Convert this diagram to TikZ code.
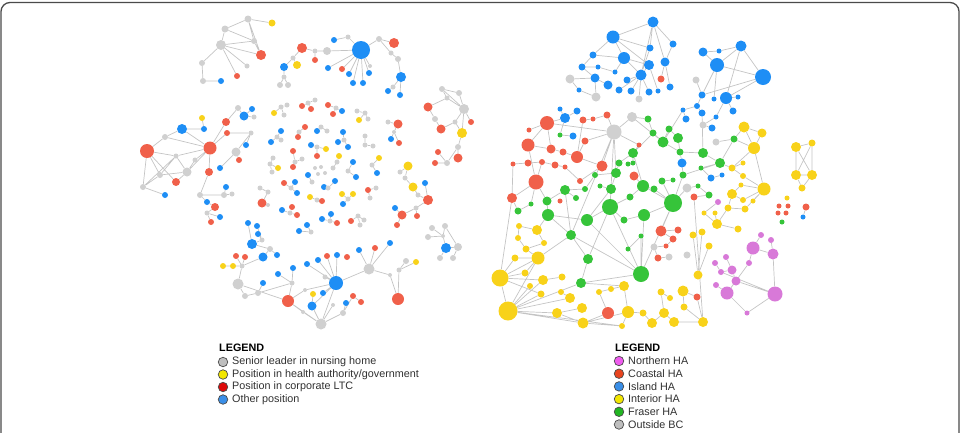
\documentclass[tikz,border=0pt]{standalone}
\usepackage{fontspec}
\setmainfont{Liberation Sans}
\usepackage{xcolor}
\usepackage{tikz}
\definecolor{cg}{HTML}{D0D0D0}
\definecolor{cy}{HTML}{F8D21A}
\definecolor{cr}{HTML}{F0604A}
\definecolor{cb}{HTML}{1E8EF5}
\definecolor{cn}{HTML}{36C43A}
\definecolor{cp}{HTML}{D879D8}
\definecolor{lnkgray}{HTML}{C4C4C4}
\definecolor{keyline}{HTML}{4A4A4A}
\definecolor{lgtext}{HTML}{303030}
\definecolor{kgray}{HTML}{BEBEBE}
\definecolor{kyel}{HTML}{F2E600}
\definecolor{kred}{HTML}{DD0A0A}
\definecolor{kblue}{HTML}{3A8FE8}
\definecolor{kpink}{HTML}{EE5BEE}
\definecolor{kcoast}{HTML}{E8441E}
\definecolor{kgreen}{HTML}{22B522}
\newcommand{\vx}[5]{\node[vtx,fill=#4,minimum size=#5pt] (#1) at (#2,#3) {};}
\pgfdeclarelayer{back}
\pgfsetlayers{back,main}

\begin{document}
\begin{tikzpicture}[x=1pt,y=-1pt,vtx/.style={circle,inner sep=0pt,draw=none},lnk/.style={draw=lnkgray,line width=0.7pt},key/.style={circle,draw=keyline,line width=0.7pt,inner sep=0pt,minimum size=9.5pt},lbl/.style={anchor=west,inner sep=0pt,font=\fontsize{10.8}{12}\selectfont,text=lgtext},ttl/.style={anchor=west,inner sep=0pt,font=\fontsize{10.8}{12}\selectfont\bfseries,text=black}]
\useasboundingbox (0,0) rectangle (965,432);
\draw[draw=keyline,line width=1.3pt,rounded corners=9pt] (1,445)--(1,2.5)--(959,2.5)--(959,445);
\vx{A1}{225}{29}{cg}{7} \vx{A2}{248}{19}{cg}{7} \vx{A3}{272}{23}{cy}{7} \vx{A4}{254}{41}{cg}{6} \vx{A5}{221}{45}{cg}{10} \vx{A6}{261}{55}{cr}{10}
\vx{A7}{247}{66}{cg}{5} \vx{A8}{237}{76}{cr}{6} \vx{A9}{202}{63}{cg}{6} \vx{A10}{203}{81}{cg}{6} \vx{A11}{221}{81}{cb}{6}
\vx{B1}{361}{50}{cb}{18} \vx{B2}{327}{51}{cg}{8} \vx{B3}{315}{51}{cg}{5} \vx{B4}{302}{48}{cr}{10} \vx{B5}{315}{60}{cr}{6} \vx{B6}{334}{40}{cb}{6} \vx{B7}{328}{68}{cb}{6}
\vx{B8}{342}{69}{cr}{6} \vx{B9}{349}{74}{cb}{6} \vx{B10}{353}{83}{cb}{6} \vx{B11}{363}{83}{cb}{6} \vx{B12}{369}{73}{cb}{6} \vx{B13}{348}{37}{cg}{5} \vx{B14}{379}{39}{cg}{6}
\vx{B15}{394}{43}{cr}{10} \vx{B16}{391}{53}{cg}{5} \vx{B17}{398}{59}{cg}{6} \vx{B18}{401}{77}{cb}{10} \vx{B19}{393}{87}{cg}{5} \vx{B20}{388}{91}{cb}{6} \vx{B21}{400}{95}{cb}{6}
\vx{B22}{293}{58}{cg}{5} \vx{B23}{297}{65}{cy}{8} \vx{B24}{284}{67}{cb}{8} \vx{B25}{284}{77}{cg}{5} \vx{B26}{280}{85}{cg}{6} \vx{B27}{288}{85}{cg}{6} \vx{B28}{370}{66}{cg}{4}
\vx{C1}{442}{89}{cg}{6} \vx{C2}{459}{93}{cg}{6} \vx{C3}{464}{109}{cg}{10} \vx{C4}{428}{107}{cr}{9} \vx{C5}{447}{98}{cg}{5} \vx{C6}{435}{119}{cg}{6} \vx{C7}{441}{129}{cr}{9}
\vx{C8}{455}{122}{cg}{5} \vx{C9}{471}{122}{cr}{6} \vx{C10}{462}{133}{cy}{10} \vx{C11}{458}{147}{cg}{6} \vx{C12}{458}{158}{cr}{9} \vx{C13}{438}{152}{cr}{6} \vx{C14}{435}{163}{cr}{6} \vx{C15}{447}{163}{cg}{6}
\vx{D1}{147}{151}{cr}{14} \vx{D2}{165}{137}{cg}{6} \vx{D3}{182}{129}{cb}{10} \vx{D4}{202}{118}{cy}{6} \vx{D5}{204}{129}{cb}{6} \vx{D6}{210}{148}{cr}{13} \vx{D7}{226}{122}{cr}{8}
\vx{D8}{238}{108}{cg}{6} \vx{D9}{244}{116}{cb}{9} \vx{D10}{252}{109}{cb}{6} \vx{D11}{254}{117}{cg}{5} \vx{D12}{251}{133}{cg}{5} \vx{D13}{227}{133}{cr}{6} \vx{D14}{246}{145}{cb}{6}
\vx{D15}{236}{152}{cg}{9} \vx{D16}{239}{160}{cr}{6} \vx{D17}{220}{168}{cb}{6} \vx{D18}{187}{172}{cg}{9} \vx{D19}{176}{182}{cr}{8} \vx{D20}{160}{175}{cg}{6} \vx{D21}{143}{187}{cg}{6}
\vx{D22}{165}{195}{cb}{6} \vx{D23}{209}{172}{cr}{8} \vx{D24}{200}{195}{cg}{6} \vx{D25}{224}{195}{cg}{6} \vx{D26}{226}{187}{cb}{6} \vx{D27}{207}{202}{cb}{6} \vx{D28}{215}{207}{cr}{8}
\vx{D29}{207}{213}{cg}{5} \vx{D30}{220}{217}{cb}{6} \vx{D31}{211}{222}{cr}{6} \vx{D32}{232}{194}{cg}{5} \vx{D33}{176}{156}{cg}{5} \vx{D34}{195}{160}{cg}{5}
\vx{e1}{274}{113}{cy}{6} \vx{e2}{281}{107}{cg}{5} \vx{e3}{287}{105}{cg}{5} \vx{e4}{284}{115}{cg}{5} \vx{e5}{302}{106}{cr}{6} \vx{e6}{308}{103}{cg}{5} \vx{e7}{311}{109}{cr}{6} \vx{e8}{315}{100}{cg}{5}
\vx{e9}{328}{105}{cr}{6} \vx{e10}{333}{114}{cr}{6} \vx{e11}{336}{108}{cg}{5} \vx{e12}{342}{111}{cb}{6} \vx{e13}{357}{111}{cg}{5} \vx{e14}{359}{120}{cy}{6} \vx{e15}{368}{119}{cg}{5} \vx{e16}{365}{113}{cg}{5}
\vx{e17}{398}{124}{cr}{9} \vx{e18}{388}{122}{cg}{5} \vx{e19}{391}{139}{cb}{6} \vx{e20}{399}{143}{cr}{6} \vx{e21}{394}{132}{cg}{4}
\vx{e22}{281}{131}{cb}{6} \vx{e23}{271}{142}{cb}{6} \vx{e24}{277}{137}{cg}{5} \vx{e25}{281}{140}{cg}{5} \vx{e26}{305}{127}{cr}{6} \vx{e27}{299}{132}{cg}{5} \vx{e28}{298}{137}{cr}{6}
\vx{e29}{317}{131}{cb}{6} \vx{e30}{321}{127}{cg}{5} \vx{e31}{327}{131}{cg}{5} \vx{e32}{343}{132}{cb}{6} \vx{e33}{338}{142}{cb}{6} \vx{e34}{344}{140}{cg}{5} \vx{e35}{348}{147}{cb}{6}
\vx{e36}{365}{136}{cg}{5} \vx{e37}{365}{145}{cg}{5} \vx{e38}{373}{146}{cg}{5} \vx{e39}{311}{145}{cb}{6} \vx{e40}{317}{147}{cg}{5} \vx{e41}{326}{149}{cy}{6} \vx{e42}{317}{156}{cr}{6}
\vx{e43}{293}{151}{cr}{6} \vx{e44}{295}{162}{cg}{5} \vx{e45}{302}{159}{cg}{5} \vx{e46}{293}{167}{cr}{6} \vx{e47}{273}{158}{cg}{5} \vx{e48}{270}{164}{cg}{5} \vx{e49}{278}{168}{cy}{6} \vx{e50}{272}{172}{cg}{5}
\vx{e51}{315}{168}{cg}{4} \vx{e52}{321}{167}{cg}{4} \vx{e53}{325}{173}{cg}{4} \vx{e54}{318}{174}{cg}{4} \vx{e55}{339}{156}{cy}{6} \vx{e56}{337}{162}{cg}{5} \vx{e57}{333}{168}{cg}{5}
\vx{e58}{353}{162}{cb}{6} \vx{e59}{348}{171}{cg}{5} \vx{e60}{356}{177}{cb}{6} \vx{e61}{379}{158}{cy}{6} \vx{e62}{372}{165}{cg}{5} \vx{e63}{377}{173}{cb}{6}
\vx{e64}{408}{166}{cy}{9} \vx{e65}{405}{178}{cg}{5} \vx{e66}{413}{187}{cy}{9} \vx{e67}{428}{200}{cr}{10} \vx{e68}{425}{183}{cb}{6} \vx{e69}{418}{195}{cg}{5} \vx{e70}{400}{172}{cg}{5}
\vx{e71}{308}{175}{cb}{6} \vx{e72}{324}{187}{cb}{6} \vx{e73}{335}{181}{cb}{6} \vx{e74}{328}{188}{cg}{5} \vx{e75}{312}{182}{cg}{5}
\vx{e76}{284}{183}{cr}{6} \vx{e77}{295}{182}{cb}{6} \vx{e78}{297}{193}{cb}{6} \vx{e79}{291}{188}{cg}{5} \vx{e80}{310}{197}{cy}{6} \vx{e81}{317}{200}{cg}{5} \vx{e82}{322}{201}{cr}{6}
\vx{e83}{342}{194}{cy}{6} \vx{e84}{353}{194}{cy}{6} \vx{e85}{348}{199}{cg}{5} \vx{e86}{343}{204}{cb}{6} \vx{e87}{368}{190}{cr}{6} \vx{e88}{376}{188}{cg}{5} \vx{e89}{370}{198}{cg}{5}
\vx{e90}{262}{203}{cr}{9} \vx{e91}{260}{188}{cg}{5} \vx{e92}{268}{192}{cg}{5} \vx{e93}{268}{205}{cg}{4} \vx{e94}{282}{210}{cb}{6} \vx{e95}{292}{207}{cr}{6} \vx{e96}{297}{215}{cr}{6} \vx{e97}{290}{213}{cg}{5}
\vx{e98}{322}{219}{cb}{6} \vx{e99}{331}{214}{cb}{6} \vx{e100}{330}{221}{cg}{5} \vx{e101}{337}{223}{cr}{6} \vx{e102}{351}{221}{cr}{6} \vx{e103}{358}{216}{cg}{5} \vx{e104}{360}{225}{cg}{5} \vx{e105}{364}{220}{cg}{5}
\vx{e106}{299}{231}{cb}{6} \vx{e107}{307}{225}{cb}{6} \vx{e108}{311}{232}{cg}{5} \vx{e112}{402}{215}{cr}{9} \vx{e113}{397}{225}{cr}{6} \vx{e114}{395}{208}{cb}{6} \vx{e115}{417}{216}{cr}{6} \vx{e117}{416}{208}{cg}{5}
\vx{F1}{252}{244}{cb}{10} \vx{F2}{248}{223}{cb}{6} \vx{F3}{257}{226}{cb}{6} \vx{F4}{258}{234}{cb}{6} \vx{F5}{263}{257}{cb}{9} \vx{F6}{270}{249}{cg}{6} \vx{F7}{277}{255}{cb}{6}
\vx{F8}{236}{256}{cr}{6} \vx{F9}{245}{257}{cr}{6} \vx{F10}{223}{266}{cy}{6} \vx{F11}{233}{266}{cy}{6} \vx{F12}{242}{266}{cg}{5} \vx{F13}{238}{284}{cg}{11} \vx{F14}{245}{296}{cg}{6}
\vx{F15}{258}{293}{cg}{6} \vx{F16}{263}{283}{cb}{6} \vx{F17}{278}{274}{cb}{6} \vx{F18}{293}{268}{cb}{6} \vx{F19}{288}{301}{cr}{12} \vx{F20}{336}{283}{cb}{14} \vx{F21}{321}{324}{cg}{11}
\vx{F22}{312}{306}{cb}{9} \vx{F23}{313}{294}{cy}{6} \vx{F24}{323}{293}{cb}{6} \vx{F25}{307}{264}{cb}{6} \vx{F26}{318}{260}{cb}{6} \vx{F27}{327}{256}{cr}{6} \vx{F28}{337}{255}{cb}{6}
\vx{F29}{347}{257}{cr}{6} \vx{F30}{369}{269}{cg}{11} \vx{F31}{359}{250}{cb}{6} \vx{F32}{375}{248}{cr}{6} \vx{F33}{390}{243}{cb}{6} \vx{F34}{398}{299}{cr}{12} \vx{F35}{406}{261}{cg}{6}
\vx{F36}{416}{262}{cy}{6} \vx{F37}{346}{303}{cb}{6} \vx{F38}{353}{296}{cr}{6} \vx{F39}{361}{302}{cr}{6} \vx{F40}{343}{313}{cg}{6} \vx{F41}{325}{277}{cg}{5} \vx{F42}{292}{283}{cg}{5}
\vx{F43}{262}{240}{cg}{5} \vx{F44}{305}{290}{cg}{4} \vx{F45}{333}{305}{cg}{4} \vx{F46}{390}{275}{cg}{4} \vx{F47}{399}{270}{cg}{5} \vx{F48}{303}{312}{cg}{4}
\vx{G1}{446}{248}{cb}{10} \vx{G2}{432}{228}{cg}{6} \vx{G3}{445}{226}{cg}{6} \vx{G4}{428}{237}{cg}{6} \vx{G5}{458}{247}{cg}{8} \vx{G6}{440}{258}{cg}{6} \vx{G7}{453}{258}{cg}{6} \vx{G8}{443}{236}{cg}{4}
\vx{H1}{653}{22}{cb}{11} \vx{H2}{613}{37}{cb}{13} \vx{H3}{673}{44}{cb}{7} \vx{H4}{650}{48}{cb}{7} \vx{H5}{624}{58}{cb}{12} \vx{H6}{593}{55}{cb}{7} \vx{H7}{649}{65}{cb}{10}
\vx{H8}{665}{62}{cb}{9} \vx{H9}{582}{67}{cb}{7} \vx{H10}{598}{67}{cb}{5} \vx{H11}{595}{78}{cb}{9} \vx{H12}{615}{72}{cb}{5} \vx{H13}{627}{80}{cb}{7} \vx{H14}{641}{75}{cb}{11}
\vx{H15}{608}{85}{cb}{9} \vx{H16}{619}{90}{cb}{7} \vx{H17}{631}{91}{cb}{7} \vx{H18}{649}{92}{cb}{7} \vx{H19}{658}{91}{cb}{5} \vx{H20}{670}{87}{cb}{7} \vx{H21}{661}{79}{cr}{7}
\vx{H22}{570}{79}{cg}{9} \vx{H23}{596}{97}{cg}{9} \vx{H24}{639}{99}{cg}{7} \vx{H25}{579}{90}{cb}{5}
\vx{I1}{703}{52}{cb}{9} \vx{I2}{719}{51}{cb}{5} \vx{I3}{741}{46}{cb}{11} \vx{I4}{717}{65}{cb}{14} \vx{I5}{763}{77}{cb}{16} \vx{I6}{696}{80}{cg}{7} \vx{I7}{702}{95}{cb}{7}
\vx{I8}{726}{98}{cb}{12} \vx{I9}{714}{99}{cb}{5} \vx{I10}{738}{97}{cb}{5} \vx{I11}{697}{106}{cb}{6} \vx{I12}{702}{113}{cb}{7} \vx{I13}{683}{110}{cb}{5} \vx{I14}{686}{119}{cb}{7}
\vx{I15}{733}{111}{cb}{7} \vx{I16}{716}{117}{cb}{5} \vx{I17}{703}{125}{cg}{7} \vx{I18}{712}{128}{cb}{7}
\vx{J1}{547}{123}{cr}{14} \vx{J2}{565}{118}{cb}{10} \vx{J3}{560}{109}{cb}{5} \vx{J4}{577}{111}{cb}{7} \vx{J5}{583}{120}{cr}{7} \vx{J6}{593}{119}{cr}{5} \vx{J7}{607}{115}{cr}{7}
\vx{J8}{614}{132}{cg}{15} \vx{J9}{632}{117}{cg}{10} \vx{J10}{648}{119}{cn}{7} \vx{J11}{653}{133}{cn}{7} \vx{J12}{560}{135}{cn}{5} \vx{J13}{573}{136}{cb}{7} \vx{J14}{529}{130}{cr}{5}
\vx{J15}{528}{145}{cr}{13} \vx{J16}{551}{149}{cr}{9} \vx{J17}{563}{152}{cr}{7} \vx{J18}{577}{157}{cr}{12} \vx{J19}{585}{141}{cr}{7} \vx{J20}{602}{166}{cr}{11} \vx{J21}{580}{181}{cr}{6}
\vx{J22}{565}{167}{cr}{5} \vx{J23}{555}{165}{cr}{7} \vx{J24}{542}{162}{cr}{6} \vx{J25}{528}{163}{cr}{7} \vx{J26}{513}{164}{cr}{5} \vx{J27}{536}{182}{cr}{15} \vx{J28}{512}{198}{cr}{10}
\vx{J29}{518}{211}{cn}{7} \vx{J30}{531}{204}{cn}{5} \vx{J31}{547}{201}{cn}{9} \vx{J32}{560}{201}{cr}{5} \vx{J33}{565}{190}{cn}{10} \vx{J34}{548}{215}{cn}{12} \vx{J35}{576}{198}{cn}{6}
\vx{J36}{587}{220}{cn}{12} \vx{J37}{585}{189}{cn}{6} \vx{J38}{595}{175}{cn}{6} \vx{J39}{616}{173}{cn}{10} \vx{J40}{619}{163}{cn}{7} \vx{J41}{633}{163}{cn}{5} \vx{J42}{633}{153}{cn}{10}
\vx{J43}{639}{145}{cr}{5} \vx{J44}{611}{189}{cn}{10} \vx{J45}{600}{186}{cn}{5} \vx{J46}{634}{176}{cr}{9} \vx{J47}{643}{186}{cn}{12} \vx{J48}{654}{189}{cn}{7} \vx{J49}{630}{197}{cn}{7}
\vx{J50}{610}{207}{cn}{16} \vx{J51}{624}{220}{cn}{7} \vx{J52}{644}{215}{cn}{12} \vx{J53}{663}{142}{cn}{11} \vx{J54}{669}{129}{cn}{7} \vx{J55}{678}{138}{cn}{10} \vx{J56}{680}{152}{cn}{7}
\vx{J57}{673}{180}{cn}{5} \vx{J58}{673}{203}{cn}{18} \vx{J59}{662}{181}{cn}{7} \vx{J60}{683}{175}{cn}{7} \vx{J61}{687}{188}{cg}{9} \vx{J62}{682}{163}{cb}{9} \vx{J63}{703}{153}{cn}{10}
\vx{J64}{720}{163}{cn}{10} \vx{J65}{711}{178}{cb}{7} \vx{J66}{722}{175}{cb}{5} \vx{J67}{709}{195}{cn}{7} \vx{J68}{694}{197}{cr}{7} \vx{J69}{718}{202}{cp}{6} \vx{J70}{701}{168}{cn}{5}
\vx{J71}{698}{186}{cn}{5} \vx{J72}{571}{235}{cn}{10} \vx{J73}{588}{259}{cn}{10} \vx{J74}{581}{283}{cn}{10} \vx{J75}{641}{236}{cn}{5} \vx{J76}{628}{249}{cn}{5} \vx{J77}{641}{274}{cn}{16}
\vx{J78}{661}{231}{cr}{11} \vx{J79}{678}{230}{cr}{7} \vx{J80}{673}{239}{cr}{7} \vx{J81}{666}{246}{cr}{5} \vx{J82}{654}{247}{cg}{7} \vx{J83}{658}{258}{cr}{7} \vx{J84}{669}{257}{cg}{7}
\vx{J85}{687}{255}{cg}{7} \vx{J86}{716}{142}{cg}{7} \vx{J87}{734}{139}{cn}{7} \vx{J88}{628}{164}{cn}{5}
\vx{K1}{744}{127}{cy}{11} \vx{K2}{762}{133}{cy}{9} \vx{K3}{754}{148}{cy}{12} \vx{K4}{732}{168}{cy}{7} \vx{K5}{796}{147}{cy}{10} \vx{K6}{812}{143}{cy}{7} \vx{K7}{796}{175}{cy}{10}
\vx{K8}{812}{175}{cy}{10} \vx{K9}{802}{188}{cy}{7} \vx{K10}{743}{176}{cy}{6} \vx{K11}{743}{163}{cy}{5} \vx{K12}{741}{185}{cy}{5} \vx{K13}{732}{194}{cy}{10} \vx{K14}{743}{200}{cy}{6}
\vx{K15}{745}{209}{cy}{7} \vx{K16}{753}{201}{cy}{5} \vx{K17}{764}{189}{cy}{13} \vx{K18}{728}{208}{cy}{7} \vx{K19}{717}{224}{cy}{10} \vx{K20}{738}{229}{cy}{7} \vx{K21}{704}{213}{cy}{5}
\vx{K22}{715}{213}{cy}{5} \vx{K23}{693}{235}{cy}{7} \vx{K24}{702}{232}{cy}{7} \vx{K25}{709}{246}{cy}{7} \vx{K26}{698}{275}{cy}{9}
\vx{L1}{787}{198}{cy}{5} \vx{L2}{779}{206}{cr}{5} \vx{L3}{788}{206}{cr}{5} \vx{L4}{778}{213}{cr}{5} \vx{L5}{786}{213}{cr}{5} \vx{L6}{782}{222}{cn}{5} \vx{L7}{806}{207}{cr}{7} \vx{L8}{803}{217}{cb}{5}
\vx{P1}{753}{248}{cp}{13} \vx{P2}{773}{254}{cp}{11} \vx{P3}{761}{235}{cp}{6} \vx{P4}{771}{240}{cp}{6} \vx{P5}{749}{263}{cp}{6} \vx{P6}{726}{257}{cp}{6} \vx{P7}{715}{263}{cp}{6}
\vx{P8}{721}{272}{cp}{6} \vx{P9}{732}{270}{cp}{9} \vx{P10}{736}{281}{cp}{9} \vx{P11}{727}{293}{cp}{13} \vx{P12}{775}{294}{cp}{15} \vx{P13}{716}{285}{cp}{6} \vx{P14}{747}{313}{cp}{5}
\vx{Q1}{500}{278}{cy}{17} \vx{Q2}{508}{311}{cy}{19} \vx{Q3}{538}{258}{cy}{13} \vx{Q4}{537}{230}{cy}{10} \vx{Q5}{519}{226}{cy}{6} \vx{Q6}{518}{238}{cy}{6} \vx{Q7}{544}{243}{cy}{6}
\vx{Q8}{526}{249}{cy}{7} \vx{Q9}{515}{258}{cy}{7} \vx{Q10}{525}{273}{cy}{7} \vx{Q11}{530}{286}{cy}{6} \vx{Q12}{543}{280}{cy}{10} \vx{Q13}{562}{277}{cy}{7} \vx{Q14}{561}{292}{cy}{6}
\vx{Q15}{541}{294}{cy}{7} \vx{Q16}{570}{298}{cy}{10} \vx{Q17}{557}{313}{cy}{10} \vx{Q18}{582}{308}{cy}{10} \vx{Q19}{583}{323}{cy}{11} \vx{Q20}{608}{313}{cr}{12} \vx{Q21}{599}{292}{cy}{6}
\vx{Q22}{611}{289}{cy}{6} \vx{Q23}{624}{286}{cy}{10} \vx{Q24}{628}{312}{cy}{12} \vx{Q25}{643}{313}{cy}{7} \vx{Q26}{622}{326}{cy}{6} \vx{Q27}{652}{323}{cy}{10} \vx{Q28}{664}{313}{cy}{10}
\vx{Q29}{674}{322}{cy}{10} \vx{Q30}{661}{292}{cy}{7} \vx{Q31}{670}{298}{cy}{6} \vx{Q32}{683}{291}{cy}{11} \vx{Q33}{684}{307}{cy}{7} \vx{Q34}{697}{297}{cr}{7} \vx{Q35}{703}{322}{cy}{10}
\begin{pgfonlayer}{back}
\draw[lnk] (A1)--(A2) (A2)--(A3) (A2)--(A4) (A1)--(A4) (A1)--(A5) (A5)--(A4) (A5)--(A6) (A4)--(A6) (A2)--(A6) (A5)--(A7) (A5)--(A8) (A5)--(A9) (A9)--(A10) (A10)--(A11);
\draw[lnk] (B1)--(B2) (B1)--(B13) (B13)--(B6) (B1)--(B7) (B1)--(B8) (B1)--(B9) (B1)--(B10) (B1)--(B11) (B1)--(B12) (B1)--(B28) (B1)--(B14) (B2)--(B3) (B3)--(B4) (B3)--(B5) (B4)--(B22) (B22)--(B23) (B22)--(B24) (B24)--(B25) (B25)--(B26) (B25)--(B27) (B14)--(B15) (B14)--(B16) (B16)--(B17) (B17)--(B18) (B18)--(B19) (B19)--(B20) (B18)--(B21);
\draw[lnk] (C1)--(C2) (C2)--(C3) (C1)--(C5) (C5)--(C3) (C4)--(C5) (C4)--(C6) (C6)--(C7) (C7)--(C8) (C8)--(C3) (C3)--(C9) (C8)--(C10) (C3)--(C10) (C10)--(C11) (C11)--(C12) (C11)--(C15) (C15)--(C13) (C15)--(C14) (C1)--(C3);
\draw[lnk] (D1)--(D2) (D2)--(D3) (D3)--(D5) (D4)--(D5) (D3)--(D6) (D2)--(D6) (D1)--(D20) (D1)--(D21) (D1)--(D33) (D1)--(D19) (D20)--(D21) (D21)--(D22) (D20)--(D33) (D33)--(D18) (D33)--(D6) (D18)--(D6) (D18)--(D34) (D34)--(D6) (D19)--(D18) (D20)--(D18) (D21)--(D33) (D6)--(D7) (D7)--(D8) (D8)--(D9) (D9)--(D10) (D9)--(D11) (D6)--(D13) (D13)--(D12) (D12)--(D14) (D12)--(D15) (D15)--(D16) (D15)--(D17) (D6)--(D23) (D23)--(D24) (D24)--(D25) (D25)--(D26) (D25)--(D32) (D24)--(D27) (D27)--(D28) (D28)--(D29) (D29)--(D30) (D29)--(D31);
\draw[lnk] (e1)--(e2) (e2)--(e3) (e2)--(e4) (e5)--(e6) (e6)--(e7) (e6)--(e8) (e9)--(e11) (e10)--(e11) (e11)--(e12) (e13)--(e16) (e16)--(e14) (e16)--(e15) (e17)--(e18) (e17)--(e21) (e21)--(e19) (e21)--(e20) (e22)--(e24) (e23)--(e24) (e24)--(e25) (e26)--(e27) (e27)--(e28) (e29)--(e30) (e30)--(e31) (e32)--(e34) (e33)--(e34) (e34)--(e35) (e36)--(e37) (e37)--(e38) (e39)--(e40) (e40)--(e41) (e40)--(e42) (e43)--(e44) (e44)--(e45) (e44)--(e46) (e47)--(e48) (e48)--(e49) (e48)--(e50);
\draw[lnk] (e55)--(e56) (e56)--(e57) (e58)--(e59) (e59)--(e60) (e61)--(e62) (e62)--(e63) (e64)--(e65) (e65)--(e66) (e66)--(e69) (e69)--(e67) (e67)--(e68) (e64)--(e70) (e71)--(e75) (e72)--(e74) (e73)--(e74) (e76)--(e79) (e77)--(e79) (e79)--(e78) (e80)--(e81) (e81)--(e82) (e83)--(e85) (e84)--(e85) (e85)--(e86) (e87)--(e88) (e87)--(e89) (e90)--(e92) (e92)--(e91) (e90)--(e93) (e94)--(e97) (e95)--(e97) (e97)--(e96) (e98)--(e100) (e99)--(e100) (e100)--(e101) (e102)--(e103) (e103)--(e104) (e103)--(e105) (e106)--(e108) (e107)--(e108) (e67)--(e117) (e117)--(e112) (e112)--(e114) (e112)--(e113) (e117)--(e115);
\draw[lnk] (F1)--(F2) (F1)--(F43) (F43)--(F3) (F43)--(F4) (F1)--(F6) (F6)--(F7) (F6)--(F5) (F12)--(F5) (F12)--(F8) (F12)--(F9) (F12)--(F11) (F11)--(F10) (F13)--(F12) (F13)--(F14) (F14)--(F15) (F15)--(F16) (F15)--(F42) (F42)--(F17) (F42)--(F18) (F42)--(F19) (F19)--(F21) (F19)--(F44) (F44)--(F20) (F20)--(F25) (F20)--(F26) (F20)--(F27) (F20)--(F28) (F20)--(F24) (F20)--(F41) (F20)--(F21) (F20)--(F22) (F21)--(F22) (F22)--(F23) (F21)--(F45) (F21)--(F40) (F40)--(F37) (F40)--(F38) (F38)--(F39) (F20)--(F30) (F30)--(F31) (F30)--(F32) (F30)--(F33) (F30)--(F46) (F46)--(F34) (F34)--(F47) (F47)--(F35) (F47)--(F36) (F21)--(F48) (F48)--(F19) (F13)--(F19);
\draw[lnk] (G2)--(G8) (G3)--(G8) (G4)--(G8) (G8)--(G1) (G1)--(G5) (G5)--(G7) (G1)--(G6) (G3)--(G5);
\draw[lnk] (H1)--(H2) (H1)--(H4) (H1)--(H3) (H1)--(H14) (H1)--(H8) (H2)--(H5) (H2)--(H4) (H2)--(H6) (H2)--(H7) (H5)--(H6) (H5)--(H7) (H5)--(H14) (H6)--(H9) (H9)--(H10) (H9)--(H11) (H11)--(H22) (H11)--(H23) (H11)--(H15) (H14)--(H16) (H14)--(H17) (H14)--(H18) (H14)--(H13) (H7)--(H14) (H3)--(H8) (H8)--(H20) (H8)--(H21) (H22)--(H25) (H25)--(H23) (H4)--(H14) (H14)--(H24) (H7)--(H19) (H12)--(H5) (H10)--(H12);
\draw[lnk] (I1)--(I2) (I2)--(I3) (I3)--(I5) (I4)--(I5) (I4)--(I3) (I1)--(I4) (I4)--(I7) (I4)--(I9) (I3)--(I8) (I5)--(I8) (I5)--(I7) (I8)--(I10) (I8)--(I15) (I7)--(I11) (I11)--(I13) (I13)--(I14) (I11)--(I12) (I16)--(I17) (I17)--(I18) (I8)--(I16) (I6)--(I7) (I13)--(J53) (I12)--(J63);
\draw[lnk] (J27)--(J15) (J15)--(J1) (J1)--(J14) (J1)--(J2) (J2)--(J3) (J2)--(J4) (J1)--(J16) (J16)--(J17) (J17)--(J18) (J18)--(J5) (J5)--(J6) (J6)--(J7) (J7)--(J8) (J8)--(J9) (J9)--(J10) (J10)--(J11) (J1)--(J8) (J2)--(J12) (J12)--(J13) (J15)--(J16) (J18)--(J20) (J20)--(J8) (J18)--(J19) (J19)--(J8) (J20)--(J21) (J21)--(J22) (J22)--(J23) (J23)--(J24) (J24)--(J25) (J25)--(J26) (J26)--(J28) (J27)--(J24) (J27)--(J28) (J27)--(J31) (J27)--(J30) (J30)--(J29) (J28)--(J29) (J31)--(J33) (J33)--(J35) (J33)--(J37) (J37)--(J38) (J38)--(J39) (J39)--(J40) (J40)--(J42) (J42)--(J43) (J43)--(J8) (J42)--(J11) (J39)--(J44) (J44)--(J45) (J44)--(J36) (J36)--(J34) (J34)--(J31) (J36)--(J50) (J50)--(J44) (J50)--(J49) (J49)--(J47) (J47)--(J46) (J47)--(J48) (J48)--(J58) (J50)--(J51) (J51)--(J52) (J52)--(J58) (J58)--(J59) (J58)--(J60) (J60)--(J62) (J62)--(J56) (J56)--(J55) (J55)--(J54) (J54)--(J53) (J53)--(J11) (J53)--(J56) (J58)--(J61) (J61)--(J71) (J71)--(J67) (J67)--(J68) (J63)--(J64) (J63)--(J56) (J64)--(J70) (J70)--(J65) (J65)--(J66) (J50)--(J73) (J73)--(J74) (J74)--(J77) (J50)--(J77) (J77)--(J52) (J58)--(J77) (J72)--(J34) (J72)--(J73) (J72)--(J77) (J77)--(J75) (J75)--(J76) (J78)--(J79) (J78)--(J80) (J80)--(J81) (J81)--(J82) (J82)--(J83) (J83)--(J84) (J8)--(J72) (J8)--(J50) (J8)--(J39) (J9)--(J53) (J42)--(J47) (J41)--(J42) (J88)--(J41) (J47)--(J58) (J36)--(J77) (J33)--(J72) (J58)--(J78) (J68)--(Q35) (J64)--(J87) (J86)--(J87) (J59)--(J57) (J60)--(J64);
\draw[lnk] (K1)--(K2) (K1)--(K3) (K2)--(K3) (K3)--(J87) (J87)--(K1) (K3)--(K4) (K4)--(K11) (K5)--(K6) (K5)--(K8) (K6)--(K7) (K7)--(K8) (K8)--(K9) (K7)--(K9) (K5)--(K7) (K6)--(K8) (K4)--(K10) (K10)--(K17) (K3)--(K17) (K17)--(K12) (K17)--(K14) (K17)--(K16) (K17)--(K15) (K13)--(K14) (K13)--(K12) (K15)--(K18) (K13)--(K18) (K18)--(K19) (K19)--(K20) (K19)--(K21) (K19)--(K22) (K23)--(K26) (K24)--(K26) (K25)--(K26) (J69)--(K21) (J64)--(K4) (L7)--(L8);
\draw[lnk] (P1)--(P3) (P4)--(P2) (P1)--(P2) (P1)--(P5) (P2)--(P12) (P6)--(P9) (P7)--(P8) (P8)--(P9) (P9)--(P10) (P10)--(P11) (P13)--(P11) (P11)--(P14) (P14)--(P12) (P8)--(P12) (P10)--(P12) (P5)--(P11);
\draw[lnk] (Q5)--(Q4) (Q4)--(Q7) (Q6)--(Q8) (Q8)--(Q3) (Q9)--(Q3) (Q3)--(Q1) (Q3)--(Q2) (Q3)--(Q10) (Q1)--(Q2) (Q1)--(Q10) (Q1)--(Q9) (Q1)--(Q12) (Q1)--(Q15) (Q2)--(Q12) (Q2)--(Q11) (Q2)--(Q15) (Q2)--(Q16) (Q2)--(Q17) (Q2)--(Q19) (Q2)--(Q26) (Q12)--(Q13) (Q16)--(Q14) (Q17)--(Q18) (Q17)--(Q19) (Q19)--(Q20) (Q19)--(Q24) (Q20)--(Q21) (Q21)--(Q22) (Q22)--(Q23) (Q23)--(Q24) (Q24)--(Q25) (Q25)--(Q27) (Q27)--(Q28) (Q28)--(Q30) (Q30)--(Q31) (Q29)--(Q35) (Q28)--(Q29) (Q32)--(Q33) (Q33)--(Q35) (Q32)--(Q34) (Q34)--(Q35) (Q26)--(Q24) (Q19)--(Q26) (J74)--(Q23) (J74)--(Q2) (J72)--(Q3) (Q4)--(J34) (Q5)--(Q6) (Q8)--(Q7) (Q1)--(J28);
\end{pgfonlayer}
\node[ttl] (lgA) at (219,348) {LEGEND};
\node[key,fill=kgray] (kA1) at (223,362) {}; \node[lbl] (tA1) at (232,362) {Senior leader in nursing home};
\node[key,fill=kyel] (kA2) at (223,374.5) {}; \node[lbl] (tA2) at (232,374.5) {Position in health authority/government};
\node[key,fill=kred] (kA3) at (223,387) {}; \node[lbl] (tA3) at (232,387) {Position in corporate LTC};
\node[key,fill=kblue] (kA4) at (223,399.5) {}; \node[lbl] (tA4) at (232,399.5) {Other position};
\node[ttl] (lgB) at (615,348) {LEGEND};
\node[key,fill=kpink] (kB1) at (619,361) {}; \node[lbl] (tB1) at (628,361) {Northern HA};
\node[key,fill=kcoast] (kB2) at (619,373.7) {}; \node[lbl] (tB2) at (628,373.7) {Coastal HA};
\node[key,fill=kblue] (kB3) at (619,386.4) {}; \node[lbl] (tB3) at (628,386.4) {Island HA};
\node[key,fill=kyel] (kB4) at (619,399.1) {}; \node[lbl] (tB4) at (628,399.1) {Interior HA};
\node[key,fill=kgreen] (kB5) at (619,411.8) {}; \node[lbl] (tB5) at (628,411.8) {Fraser HA};
\node[key,fill=kgray] (kB6) at (619,424.5) {}; \node[lbl] (tB6) at (628,424.5) {Outside BC};
\end{tikzpicture}
\end{document}
